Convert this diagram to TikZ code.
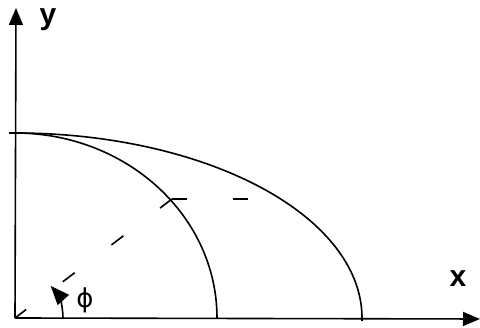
\documentclass[tikz,border=0pt]{standalone}
\usepackage{fontspec}
\setmainfont{Liberation Sans}
\newfontfamily\symfont{DejaVu Sans}
\usetikzlibrary{arrows.meta}
\begin{document}
\begin{tikzpicture}[x=1pt,y=1pt,
  axis/.style={line width=1.6pt,-{Triangle[length=17pt,width=14pt]}},
  curve/.style={line width=1.6pt},
  dsh/.style={line width=1.6pt,dash pattern=on 15pt off 46pt},
  lab/.style={font=\fontsize{30}{32}\selectfont\bfseries,inner sep=0pt,anchor=base},
  anglearrow/.style={line width=1.6pt,-{Triangle[length=19pt,width=15pt]}}]
\useasboundingbox (0,0) rectangle (480,328);
\coordinate (O) at (15,10);
\coordinate (ytop) at (16,320);
\coordinate (xend) at (480,9);
\coordinate (P) at (172,129);
\coordinate (Q) at (250,129);
\coordinate (top) at (15,195);
\coordinate (topl) at (9,195);
\coordinate (phistart) at (63,10);
\draw[axis] (O) -- (ytop);
\draw[axis] (O) -- (xend);
\draw[curve] (topl) -- (top) arc[start angle=90,end angle=0,x radius=202pt,y radius=185pt];
\draw[curve] (top) arc[start angle=90,end angle=-1,x radius=347pt,y radius=185pt];
\draw[dsh] (P) -- (O);
\draw[dsh] (P) -- (Q);
\draw[anglearrow] (phistart) arc[start angle=0,end angle=42,radius=48pt];
\node[lab] (ylab) at (48,303) {y};
\node[lab] (xlab) at (458,41) {x};
\node[inner sep=0pt,font=\symfont\fontsize{26}{28}\selectfont] (philab) at (85,28) {ϕ};
\end{tikzpicture}
\end{document}
